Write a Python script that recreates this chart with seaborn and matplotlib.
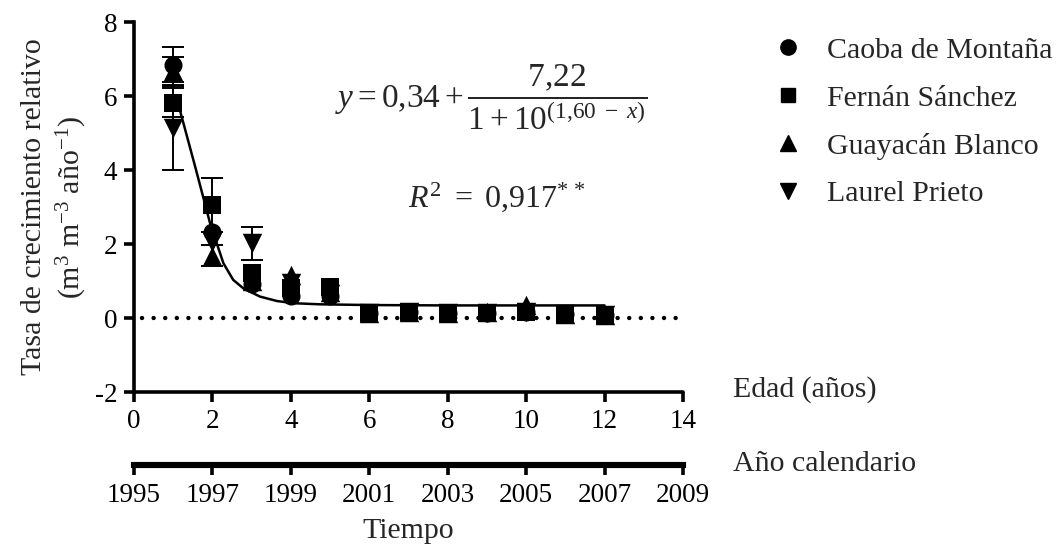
import numpy as np
import pandas as pd
import matplotlib
matplotlib.use("Agg")
import matplotlib.pyplot as plt
from matplotlib.lines import Line2D
import seaborn as sns

# ---------------- data ----------------
ages = [1, 2, 3, 4, 5, 6, 7, 8, 9, 10, 11, 12]
species = ["Caoba de Montaña", "Fernán Sánchez", "Guayacán Blanco", "Laurel Prieto"]
caoba = [6.85, 2.33, 0.92, 0.60, 0.60, 0.14, 0.15, 0.13, 0.14, 0.16, 0.11, 0.08]
caoba_err = [0.47, 0, 0, 0, 0, 0, 0, 0, 0, 0, 0, 0]
fernan = [5.82, 3.05, 1.22, 0.80, 0.85, 0.13, 0.15, 0.13, 0.14, 0.15, 0.11, 0.08]
fernan_err = [0.40, 0.73, 0, 0, 0, 0, 0, 0, 0, 0, 0, 0]
guayacan = [6.68, 1.68, 1.00, 1.17, 0.70, 0.14, 0.16, 0.14, 0.15, 0.35, 0.12, 0.09]
guayacan_err = [0.37, 0.28, 0, 0, 0, 0, 0, 0, 0, 0, 0, 0]
laurel = [5.13, 2.05, 2.02, 0.95, 0.65, 0.13, 0.15, 0.13, 0.14, 0.16, 0.11, 0.08]
laurel_err = [1.13, 0, 0.45, 0, 0, 0, 0, 0, 0, 0, 0, 0]

fit_x = [1.0, 1.17, 1.56, 1.94, 2.11, 2.28, 2.53, 2.79, 3.21, 3.64, 4.06, 4.74, 6, 8, 10, 12]
fit_y = [5.95, 5.62, 4.09, 2.56, 2.02, 1.48, 1.03, 0.80, 0.58, 0.46, 0.40, 0.37, 0.35, 0.34, 0.34, 0.34]

age_ticks = [0, 2, 4, 6, 8, 10, 12, 14]
year_ticks = [1995, 1997, 1999, 2001, 2003, 2005, 2007, 2009]
y_ticks = [-2, 0, 2, 4, 6, 8]

# ---------------- style ----------------
sns.set_theme(style="ticks")
plt.rcParams["font.family"] = ["Liberation Serif", "DejaVu Serif"]
plt.rcParams["mathtext.fontset"] = "custom"
plt.rcParams["mathtext.rm"] = "Liberation Serif"
plt.rcParams["mathtext.it"] = "Liberation Serif:italic"
plt.rcParams["mathtext.bf"] = "Liberation Serif:bold"

FS_T = 19.5
FS = 21.5
SPW = 2.6

fig = plt.figure(figsize=(10.57, 5.47), dpi=100)
ax = fig.add_axes([134 / 1057, 155 / 547, 549 / 1057, 370 / 547])

series = [
    (caoba, caoba_err, "o", 13),
    (fernan, fernan_err, "s", 12.5),
    (guayacan, guayacan_err, "^", 14),
    (laurel, laurel_err, "v", 14),
]

# dotted zero line
ax.plot([0.2, 14], [0, 0], color="black", lw=3.2, linestyle=(0, (0.01, 2.6)),
        dash_capstyle="round", zorder=1)

# fitted curve
sns.lineplot(x=fit_x, y=fit_y, ax=ax, color="black", lw=1.8, zorder=2,
             sort=False, estimator=None)

for name, (vals, errs, mk, ms) in zip(species, series):
    ex = [a for a, e in zip(ages, errs) if e > 0]
    ey = [v for v, e in zip(vals, errs) if e > 0]
    ee = [e for e in errs if e > 0]
    ax.errorbar(ex, ey, yerr=ee, fmt="none", ecolor="black",
                elinewidth=1.4, capsize=8, capthick=1.4, zorder=3)
    df = pd.DataFrame({"x": ages, "y": vals})
    sns.scatterplot(data=df, x="x", y="y", ax=ax, marker=mk, s=ms ** 2,
                    color="black", edgecolor="black", linewidth=0, zorder=4)

ax.set_xlim(0, 14)
ax.set_ylim(-2, 8)
ax.set_xticks(age_ticks)
ax.set_xticklabels([str(t) for t in age_ticks])
ax.set_yticks(y_ticks)
ax.set_yticklabels([str(t) for t in y_ticks])
ax.spines["top"].set_visible(False)
ax.spines["right"].set_visible(False)
for s in ["left", "bottom"]:
    ax.spines[s].set_linewidth(SPW)
    ax.spines[s].set_color("black")
ax.spines["bottom"].set_capstyle("round")
ax.tick_params(axis="both", direction="out", length=7, width=SPW,
               labelsize=FS_T, colors="black", pad=5)
ax.set_xlabel("")
ax.set_ylabel("Tasa de crecimiento relativo\n(m$^{3}$ m$^{-3}$ año$^{-1}$)",
              fontsize=FS, labelpad=4, linespacing=1.3)

# second axis (calendar years)
ax2 = fig.add_axes([134 / 1057, 82 / 547, 549 / 1057, 0.001])
ax2.set_xlim(1995, 2009)
ax2.set_ylim(0, 1)
ax2.set_xticks(year_ticks)
ax2.set_xticklabels([str(t) for t in year_ticks])
ax2.set_yticks([])
for s in ["top", "right", "left"]:
    ax2.spines[s].set_visible(False)
ax2.spines["bottom"].set_linewidth(SPW * 1.7)
ax2.spines["bottom"].set_color("black")
ax2.patch.set_visible(False)
ax2.tick_params(axis="x", direction="out", length=7, width=SPW,
                labelsize=FS_T, colors="black", pad=6)
ax2.set_xlabel("Tiempo", fontsize=FS, labelpad=7)

# axis titles on the right
fig.text(733 / 1057, 1 - 390 / 547, "Edad (años)", fontsize=FS, va="center", ha="left")
fig.text(733 / 1057, 1 - 464 / 547, "Año calendario", fontsize=FS, va="center", ha="left")

# equation and R2
ax.text(0.65, 0.797,
        r"$y = 0{,}34 + \dfrac{7{,}22}{1 + 10^{(1{,}60\ -\ x)}}$",
        transform=ax.transAxes, fontsize=24, ha="center", va="center")
ax.text(0.661, 0.527, r"$R^{2}\ =\ 0{,}917^{*\,*}$",
        transform=ax.transAxes, fontsize=23, ha="center", va="center")

# legend
handles = [
    Line2D([], [], marker="o", color="black", linestyle="none", markersize=11),
    Line2D([], [], marker="s", color="black", linestyle="none", markersize=10.5),
    Line2D([], [], marker="^", color="black", linestyle="none", markersize=11),
    Line2D([], [], marker="v", color="black", linestyle="none", markersize=11),
]
fig.legend(handles, species, loc="upper left", bbox_to_anchor=(761 / 1057, 1 - 25 / 547),
           frameon=False, fontsize=FS, handlelength=1.0, handletextpad=0.8,
           labelspacing=0.7, borderaxespad=0)

fig.savefig("out.png", dpi=100)
